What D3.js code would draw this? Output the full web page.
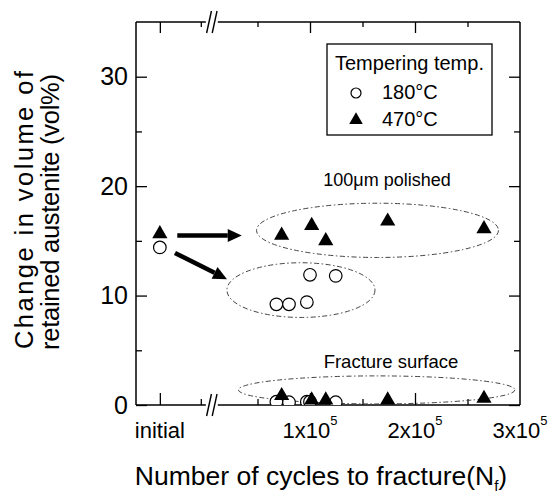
<!DOCTYPE html>
<html>
<head>
<meta charset="utf-8">
<script src="https://cdn.jsdelivr.net/npm/d3@7"></script>
<style>
  body { margin: 0; background: #fff; }
  text { font-family: "Liberation Sans", Arial, Helvetica, sans-serif; fill: #000; }
</style>
</head>
<body>
<div id="chart"></div>
<script>
// data
// "initial" is placed on the broken part of the axis, left of the break
const initialPos = -43000;
const initial180 = 14.4;
const initial470 = 15.65;

const cycles180 = [68000, 80000, 97000, 100000, 124500];
const polished180 = [9.2, 9.2, 9.4, 11.9, 11.8];
const fracture180 = [0.3, 0.25, 0.3, 0.3, 0.25];

const cycles470 = [73000, 101600, 115000, 174000, 265700];
const polished470 = [15.5, 16.4, 15.0, 16.8, 16.1];
const fracture470 = [0.85, 0.45, 0.45, 0.45, 0.6];

const yTicksMajor = [0, 10, 20, 30];
const yTicksMinor = [5, 15, 25];
const xTicksMajor = [100000, 200000, 300000];
const xTicksMinor = [50000, 150000, 250000, -4000];
const xTickLabels = ["1x10", "2x10", "3x10"];

// groups (dash-dot ellipses): centre x, centre y, radius x, radius y in data units
const groupCx = [164300, 91400, 163500];
const groupCy = [15.96, 10.5, 1.38];
const groupRx = [115200, 70500, 131700];
const groupRy = [2.48, 2.5, 1.28];

// arrows from initial to the polished groups
const arrowFromX = [-26400, -28600];
const arrowFromY = [15.5, 13.9];
const arrowToX = [35000, 21000];
const arrowToY = [15.5, 11.5];

const width = 550;
const height = 497;
const pLeft = 136, pRight = 520, pTop = 22, pBottom = 405;

const svg = d3.select("#chart")
  .append("svg")
  .attr("width", width)
  .attr("height", height);

const x = d3.scaleLinear().domain([0, 300000]).range([205, 520]);
const y = d3.scaleLinear().domain([0, 35]).range([pBottom, pTop]);

const breakX = x(6500);

// clip for markers sitting on the x axis
svg.append("clipPath").attr("id", "plotClip")
  .append("rect")
  .attr("x", pLeft).attr("y", pTop)
  .attr("width", pRight - pLeft).attr("height", pBottom - pTop);

// frame lines with breaks
const frame = svg.append("g").attr("stroke", "#000").attr("stroke-width", 1.5).attr("fill", "none");
[pTop, pBottom].forEach(yy => {
  frame.append("line").attr("x1", pLeft).attr("x2", breakX - 6).attr("y1", yy).attr("y2", yy);
  frame.append("line").attr("x1", breakX + 6).attr("x2", pRight).attr("y1", yy).attr("y2", yy);
  [-2.8, 2.8].forEach(off => {
    frame.append("line")
      .attr("x1", breakX + off - 2.4).attr("y1", yy + 11)
      .attr("x2", breakX + off + 2.4).attr("y2", yy - 11)
      .attr("stroke-width", 1.4);
  });
});
frame.append("line").attr("x1", pLeft).attr("x2", pLeft).attr("y1", pTop).attr("y2", pBottom);
frame.append("line").attr("x1", pRight).attr("x2", pRight).attr("y1", pTop).attr("y2", pBottom);

// x ticks (inward, top and bottom)
const xMajor = [initialPos].concat(xTicksMajor.slice(0, 2));
function xTicks(gen, yy, vals, size) {
  svg.append("g")
    .attr("transform", `translate(0,${yy})`)
    .call(gen(x).tickValues(vals).tickSize(-size).tickFormat(""))
    .call(g => g.select(".domain").remove())
    .call(g => g.selectAll("line").attr("stroke-width", 1.3));
}
xTicks(d3.axisBottom, pBottom, xMajor, 12);
xTicks(d3.axisBottom, pBottom, xTicksMinor, 6);
xTicks(d3.axisTop, pTop, xMajor, 11);
xTicks(d3.axisTop, pTop, xTicksMinor, 5);

// y ticks (inward, left and right)
const yAxisL = svg.append("g")
  .attr("transform", `translate(${pLeft},0)`)
  .call(d3.axisLeft(y).tickValues(yTicksMajor).tickSize(-11).tickPadding(8))
  .call(g => g.select(".domain").remove());
yAxisL.selectAll("line").attr("stroke-width", 1.3);
yAxisL.selectAll("text")
  .style("font-family", "Liberation Sans, Arial, sans-serif")
  .style("font-size", "25px")
  .attr("fill", "#000");
svg.append("g")
  .attr("transform", `translate(${pLeft},0)`)
  .call(d3.axisLeft(y).tickValues(yTicksMinor).tickSize(-6).tickFormat(""))
  .call(g => g.select(".domain").remove())
  .selectAll("line").attr("stroke-width", 1.3);
svg.append("g")
  .attr("transform", `translate(${pRight},0)`)
  .call(d3.axisRight(y).tickValues(yTicksMajor).tickSize(-11).tickFormat(""))
  .call(g => g.select(".domain").remove())
  .selectAll("line").attr("stroke-width", 1.3);
svg.append("g")
  .attr("transform", `translate(${pRight},0)`)
  .call(d3.axisRight(y).tickValues(yTicksMinor).tickSize(-6).tickFormat(""))
  .call(g => g.select(".domain").remove())
  .selectAll("line").attr("stroke-width", 1.3);

// x tick labels
svg.append("text")
  .attr("x", x(initialPos))
  .attr("y", 438)
  .attr("text-anchor", "middle")
  .style("font-size", "22px")
  .text("initial");

const xl = svg.selectAll(".xlab")
  .data(xTicksMajor)
  .join("text")
  .attr("class", "xlab")
  .attr("x", d => x(d))
  .attr("y", 438)
  .attr("text-anchor", "middle")
  .style("font-size", "22px");
xl.append("tspan").text((d, i) => xTickLabels[i]);
xl.append("tspan").attr("dy", -13).style("font-size", "13px").text("5");

// axis titles
svg.append("text")
  .attr("x", 321)
  .attr("y", 485)
  .attr("text-anchor", "middle")
  .style("font-size", "26.5px")
  .call(t => {
    t.append("tspan").text("Number of cycles to fracture(N");
    t.append("tspan").attr("dy", 6).style("font-size", "15px").text("f");
    t.append("tspan").attr("dy", -6).text(")");
  });

svg.append("text")
  .attr("transform", "translate(33,210) rotate(-90)")
  .attr("text-anchor", "middle")
  .attr("textLength", 278)
  .attr("lengthAdjust", "spacing")
  .style("font-size", "25.5px")
  .text("Change in volume of");
svg.append("text")
  .attr("transform", "translate(59,212) rotate(-90)")
  .attr("text-anchor", "middle")
  .attr("textLength", 276)
  .attr("lengthAdjust", "spacing")
  .style("font-size", "25.5px")
  .text("retained austenite (vol%)");

// dash-dot group ellipses
svg.append("g")
  .selectAll("ellipse")
  .data(groupCx)
  .join("ellipse")
  .attr("cx", d => x(d))
  .attr("cy", (d, i) => y(groupCy[i]))
  .attr("rx", (d, i) => x(d + groupRx[i]) - x(d))
  .attr("ry", (d, i) => y(0) - y(groupRy[i]))
  .attr("fill", "none")
  .attr("stroke", "#444")
  .attr("stroke-width", 1)
  .attr("stroke-dasharray", "5,2.5,1.5,2.5");

// group labels
svg.append("text")
  .attr("x", 387).attr("y", 186)
  .attr("text-anchor", "middle")
  .style("font-size", "18px")
  .text("100\u03bcm polished");
svg.append("text")
  .attr("x", 391).attr("y", 368)
  .attr("text-anchor", "middle")
  .style("font-size", "18.5px")
  .text("Fracture surface");

// arrows
const arrows = svg.append("g");
arrowFromX.forEach((fx, i) => {
  const x1 = x(fx), y1 = y(arrowFromY[i]);
  const x2 = x(arrowToX[i]), y2 = y(arrowToY[i]);
  const ang = Math.atan2(y2 - y1, x2 - x1);
  const headLen = 14, headW = 6.5;
  const bx = x2 - headLen * Math.cos(ang), by = y2 - headLen * Math.sin(ang);
  arrows.append("line")
    .attr("x1", x1).attr("y1", y1).attr("x2", bx).attr("y2", by)
    .attr("stroke", "#000").attr("stroke-width", 4.5);
  const px = -Math.sin(ang) * headW, py = Math.cos(ang) * headW;
  arrows.append("path")
    .attr("d", `M${x2},${y2}L${bx + px},${by + py}L${bx - px},${by - py}Z`)
    .attr("fill", "#000");
});

// markers
const tri = d3.symbol(d3.symbolTriangle, 100);
const marks = svg.append("g").attr("clip-path", "url(#plotClip)");

const circ = [{ c: initialPos, v: initial180 }]
  .concat(cycles180.map((c, i) => ({ c, v: polished180[i] })))
  .concat(cycles180.map((c, i) => ({ c, v: fracture180[i] })));
const tris = [{ c: initialPos, v: initial470 }]
  .concat(cycles470.map((c, i) => ({ c, v: polished470[i] })))
  .concat(cycles470.map((c, i) => ({ c, v: fracture470[i] })));

marks.selectAll("circle")
  .data(circ)
  .join("circle")
  .attr("cx", d => x(d.c))
  .attr("cy", d => y(d.v))
  .attr("r", 6.3)
  .attr("fill", "#fff")
  .attr("stroke", "#000")
  .attr("stroke-width", 1.2);

marks.selectAll("path.tri")
  .data(tris)
  .join("path")
  .attr("class", "tri")
  .attr("d", tri)
  .attr("transform", d => `translate(${x(d.c)},${y(d.v)})`)
  .attr("fill", "#000");

// legend
const lg = svg.append("g");
lg.append("rect")
  .attr("x", 327).attr("y", 44)
  .attr("width", 165).attr("height", 91)
  .attr("fill", "#fff")
  .attr("stroke", "#000")
  .attr("stroke-width", 1.3);
lg.append("text")
  .attr("x", 335).attr("y", 70)
  .style("font-size", "20px")
  .text("Tempering temp.");
lg.append("circle")
  .attr("cx", 356).attr("cy", 93).attr("r", 5)
  .attr("fill", "#fff").attr("stroke", "#000").attr("stroke-width", 1.2);
lg.append("text")
  .attr("x", 382).attr("y", 99)
  .style("font-size", "20px")
  .text("180\u00b0C");
lg.append("path")
  .attr("d", d3.symbol(d3.symbolTriangle, 80))
  .attr("transform", "translate(356,120)")
  .attr("fill", "#000");
lg.append("text")
  .attr("x", 382).attr("y", 126)
  .style("font-size", "20px")
  .text("470\u00b0C");
</script>
</body>
</html>
